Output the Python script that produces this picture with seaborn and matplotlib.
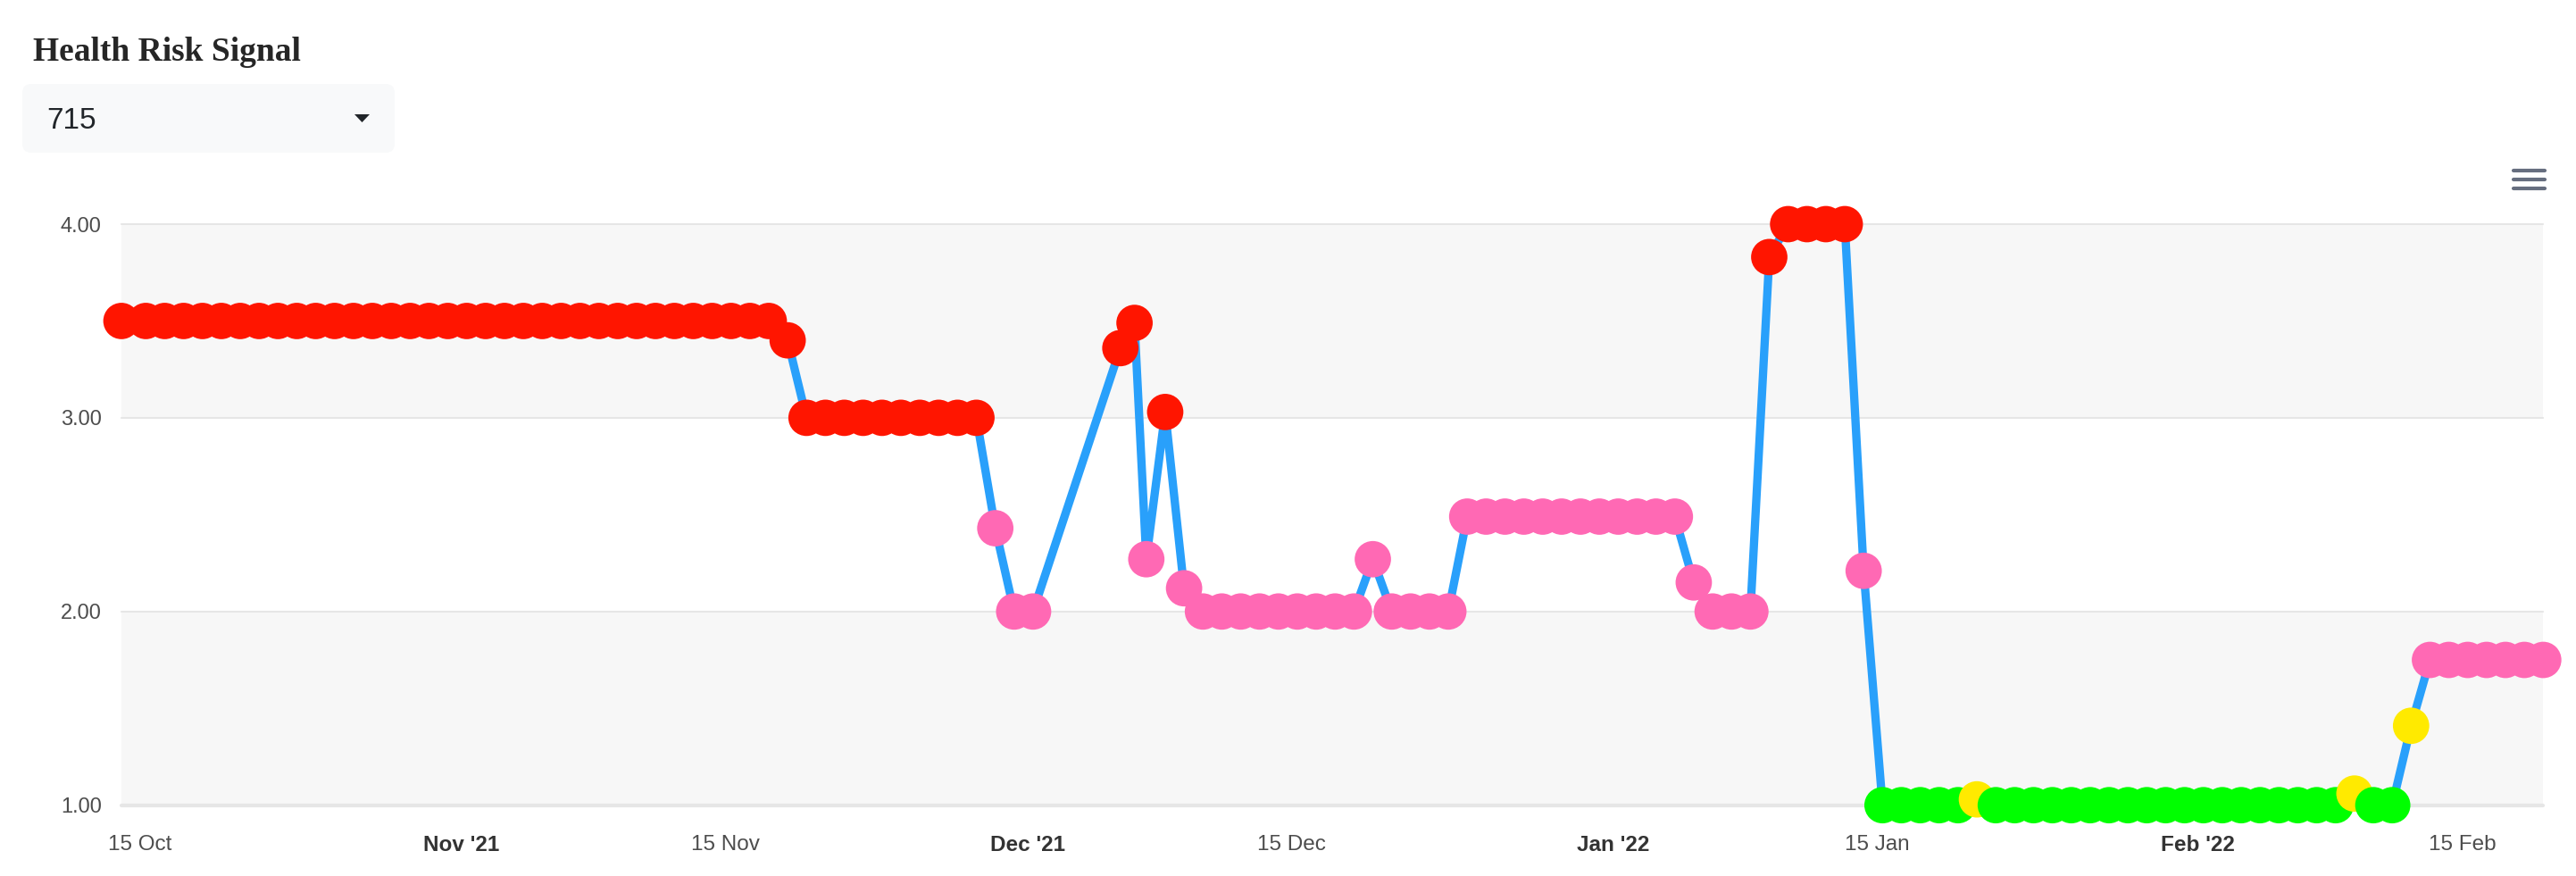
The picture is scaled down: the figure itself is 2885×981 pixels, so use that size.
import numpy as np
import pandas as pd
import matplotlib
matplotlib.use('Agg')
from matplotlib import pyplot as plt
from matplotlib.patches import FancyBboxPatch, Polygon
from matplotlib.lines import Line2D
import seaborn as sns

# 数据：每日风险信号
seg1_dates = [pd.Timestamp('2021-10-14 00:00')] + list(pd.date_range('2021-10-15 07:00', '2021-12-01 07:00', freq='D'))
seg2_dates = [pd.Timestamp('2021-12-05 22:00'), pd.Timestamp('2021-12-06 16:00')]
seg3_dates = list(pd.date_range('2021-12-07 07:00', '2022-02-19 07:00', freq='D'))
dates = seg1_dates + seg2_dates + seg3_dates

signal = [
    # 14 Oct - 1 Dec
    3.5, 3.5, 3.5, 3.5, 3.5, 3.5, 3.5, 3.5, 3.5, 3.5, 3.5, 3.5, 3.5, 3.5, 3.5, 3.5, 3.5, 3.5,
    3.5, 3.5, 3.5, 3.5, 3.5, 3.5, 3.5, 3.5, 3.5, 3.5, 3.5, 3.5, 3.5, 3.5, 3.5, 3.5, 3.5,
    3.4,
    3.0, 3.0, 3.0, 3.0, 3.0, 3.0, 3.0, 3.0, 3.0, 3.0,
    2.43, 2.0, 2.0,
    # 5 - 6 Dec
    3.36, 3.49,
    # 7 Dec - 19 Feb
    2.27, 3.03, 2.12,
    2.0, 2.0, 2.0, 2.0, 2.0, 2.0, 2.0, 2.0, 2.0,
    2.27,
    2.0, 2.0, 2.0, 2.0,
    2.49, 2.49, 2.49, 2.49, 2.49, 2.49, 2.49, 2.49, 2.49, 2.49, 2.49, 2.49,
    2.15, 2.0, 2.0, 2.0,
    3.83, 4.0, 4.0, 4.0, 4.0,
    2.21,
    1.0, 1.0, 1.0, 1.0, 1.0,
    1.03,
    1.0, 1.0, 1.0, 1.0, 1.0, 1.0, 1.0, 1.0, 1.0, 1.0, 1.0, 1.0, 1.0, 1.0, 1.0, 1.0, 1.0, 1.0, 1.0,
    1.06, 1.0, 1.0,
    1.41,
    1.75, 1.75, 1.75, 1.75, 1.75, 1.75, 1.75,
]

tick_dates = ['2021-10-15', '2021-11-01', '2021-11-15', '2021-12-01', '2021-12-15',
              '2022-01-01', '2022-01-15', '2022-02-01', '2022-02-15']
tick_labels = ['15 Oct', "Nov '21", '15 Nov', "Dec '21", '15 Dec', "Jan '22", '15 Jan', "Feb '22", '15 Feb']
month_ticks = [False, True, False, True, False, True, False, True, False]

title = 'Health Risk Signal'
selected_id = '715'

# 配色
line_color = '#29a0fb'
level_colors = {'high': '#ff1500', 'elevated': '#ff69b4', 'watch': '#ffea00', 'normal': '#00ff00'}

df = pd.DataFrame({'date': pd.DatetimeIndex(dates), 'signal': signal})
df['level'] = np.select([df['signal'] >= 3, df['signal'] >= 1.5, df['signal'] > 1],
                        ['high', 'elevated', 'watch'], default='normal')

# 画图
W, H = 2885, 981
sns.set_style('white')
plt.rcParams['font.family'] = ['Liberation Sans', 'DejaVu Sans']
fig = plt.figure(figsize=(W / 100, H / 100), dpi=100)
ax = fig.add_axes([136 / W, 1 - 901.7 / H, (2848.3 - 136) / W, (901.7 - 251) / H])

ax.axhspan(1, 2, color='#f7f7f7', lw=0, zorder=0)
ax.axhspan(3, 4, color='#f7f7f7', lw=0, zorder=0)
for y in [2, 3, 4]:
    ax.axhline(y, color='#e6e6e6', lw=1.5, zorder=0.5)
ax.axhline(1, color='#e6e6e6', lw=3, zorder=0.5)

sns.lineplot(data=df, x='date', y='signal', color=line_color, linewidth=6.7,
             sort=False, estimator=None, ax=ax, zorder=2)
sns.scatterplot(data=df, x='date', y='signal', hue='level', palette=level_colors,
                hue_order=list(level_colors), s=860, linewidth=0, legend=False, ax=ax, zorder=3)
for art in ax.collections + ax.lines:
    art.set_clip_on(False)

ax.set_ylim(1, 4)
ax.set_xlim(df['date'].iloc[0], df['date'].iloc[-1])
ax.set_yticks([1, 2, 3, 4])
ax.set_yticklabels(['1.00', '2.00', '3.00', '4.00'], fontsize=17, color='#4d4d4d')
ax.set_xticks(pd.to_datetime(tick_dates))
ax.set_xticklabels(tick_labels, fontsize=17.5, color='#4d4d4d')
for lab, bold in zip(ax.get_xticklabels(), month_ticks):
    if bold:
        lab.set_fontweight('bold')
        lab.set_color('#333333')
ax.tick_params(axis='y', length=0, pad=16)
ax.tick_params(axis='x', length=11, width=1.5, color='#ccd6eb', pad=13)
ax.set_xlabel('')
ax.set_ylabel('')
sns.despine(ax=ax, left=True, bottom=True)

# 标题、下拉框、菜单图标（像素 -> 英寸）
def px(x, y):
    return x / 100, (H - y) / 100

tr = fig.dpi_scale_trans
fig.text(*px(37, 68), title, transform=tr, fontsize=27, fontweight='bold',
         family='Liberation Serif', va='baseline', ha='left')
bx, by = px(25, 171)
fig.patches.append(FancyBboxPatch((bx, by), 4.17, 0.77, boxstyle='round,pad=0,rounding_size=0.1',
                                  transform=tr, facecolor='#f8f9fa', edgecolor='none'))
fig.text(*px(52, 144), selected_id, transform=tr, fontsize=24, color='#212529', va='baseline')
fig.patches.append(Polygon([px(397, 128), px(414, 128), px(405.5, 137)], closed=True,
                           transform=tr, facecolor='#212529', edgecolor='none'))
for yy in [191, 201, 211]:
    x0, y0 = px(2815, yy)
    x1, _ = px(2850, yy)
    fig.lines.append(Line2D([x0, x1], [y0, y0], transform=tr, color='#666e7f', lw=3))

fig.savefig('out.png', dpi=100)
